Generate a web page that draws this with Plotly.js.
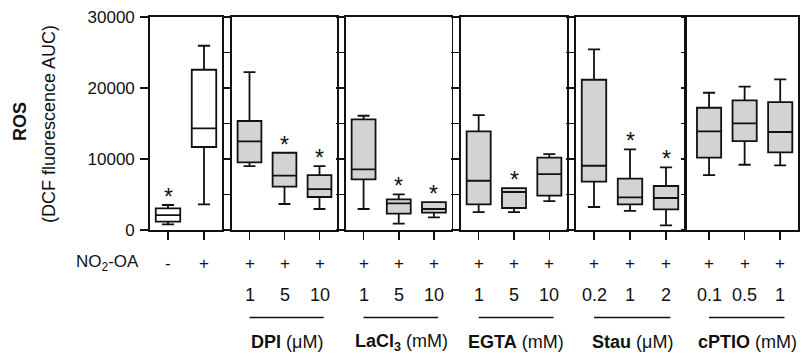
<!DOCTYPE html>
<html>
<head>
<meta charset="utf-8">
<script src="https://cdn.plot.ly/plotly-3.0.1.min.js"></script>
<style>html,body{margin:0;padding:0;background:#fff;}#chart{width:802px;height:358px;}</style>
</head>
<body>
<div id="chart"></div>
<script>
// ---- data ----
const groupNames = ['', '<b>DPI</b> (\u03bcM)', '<b>LaCl<sub>3</sub></b> (mM)', '<b>EGTA</b> (mM)', '<b>Stau</b> (\u03bcM)', '<b>cPTIO</b> (mM)'];
const no2oa = [['-', '+'], ['+', '+', '+'], ['+', '+', '+'], ['+', '+', '+'], ['+', '+', '+'], ['+', '+', '+']];
const doses = [[], ['1', '5', '10'], ['1', '5', '10'], ['1', '5', '10'], ['0.2', '1', '2'], ['0.1', '0.5', '1']];
const lowerWhisker = [[800, 3620], [9010, 3660, 2960], [2960, 890, 1790], [2530, 2530, 4080], [3240, 2680, 660], [7740, 9190, 9110]];
const q1 = [[1170, 11690], [9530, 6100, 4650], [7140, 2300, 2440], [3620, 3100, 4830], [6800, 3620, 2910], [10180, 12530, 10940]];
const medians = [[2100, 14320], [12490, 7650, 5770], [8540, 3760, 2960], [6940, 5350, 7880], [9050, 4600, 4510], [13900, 15020, 13800]];
const q3 = [[3050, 22570], [15350, 10880, 7740], [15580, 4320, 3940], [13900, 5910, 10180], [21160, 7230, 6200], [17220, 18260, 18020]];
const upperWhisker = [[3520, 25950], [22250, 10880, 9010], [16090, 5020, 3940], [16190, 5910, 10700], [25440, 11360, 8830], [19330, 20180, 21220]];
const significant = [[true, false], [false, true, true], [false, true, true], [false, true, false], [false, true, true], [false, false, false]];
const boxFill = ['#ffffff', '#d3d3d3', '#d3d3d3', '#d3d3d3', '#d3d3d3', '#d3d3d3'];

// ---- layout geometry ----
const W = 802, H = 358;
const panelPx = [[150, 222], [232, 337], [346, 451.5], [461, 567], [576, 684], [687, 798]];
const panelRanges = [[-0.5, 1.5], [-0.5, 2.5], [-0.5, 2.5], [-0.5, 2.5], [-0.5, 2.5], [-0.62, 2.5]];
const yTopPx = 17, yBotPx = 230;
const py = v => (H - v) / H;
const FONT = 'Liberation Sans, Arial, sans-serif';
const INK = '#111111';

const traces = [];
const layout = {
  width: W, height: H,
  margin: {l: 0, r: 0, t: 0, b: 0},
  paper_bgcolor: '#fff', plot_bgcolor: '#fff',
  showlegend: false,
  font: {family: FONT, size: 17, color: INK},
  annotations: [], shapes: []
};

for (let p = 0; p < 6; p++) {
  const sfx = p === 0 ? '' : String(p + 1);
  const xs = medians[p].map((_, i) => i);
  traces.push({
    type: 'box', xaxis: 'x' + sfx, yaxis: 'y' + sfx,
    x: xs, q1: q1[p], median: medians[p], q3: q3[p],
    lowerfence: lowerWhisker[p], upperfence: upperWhisker[p],
    width: 0.68, whiskerwidth: 0.5,
    fillcolor: boxFill[p], line: {color: INK, width: 1.8},
    boxpoints: false, hoverinfo: 'skip'
  });
  layout['xaxis' + sfx] = {
    domain: [panelPx[p][0] / W, panelPx[p][1] / W],
    range: panelRanges[p], anchor: 'y' + sfx,
    showgrid: false, zeroline: false,
    showline: true, mirror: true, linecolor: INK, linewidth: 1.8,
    ticks: 'outside', ticklen: 8, tickwidth: 1.6, tickcolor: INK,
    tickvals: xs, showticklabels: false, fixedrange: true
  };
  layout['yaxis' + sfx] = {
    domain: [py(yBotPx), py(yTopPx)],
    range: [0, 30000], anchor: 'x' + sfx,
    showgrid: false, zeroline: false,
    showline: true, mirror: true, linecolor: INK, linewidth: 1.8,
    ticks: 'outside', ticklen: p === 5 ? 4 : 8, tickwidth: 1.6, tickcolor: INK,
    dtick: p === 0 ? 10000 : 5000, tick0: 0, tickformat: 'd',
    showticklabels: p === 0, tickfont: {size: 17, family: FONT, color: INK},
    ticklabelstandoff: 2, fixedrange: true
  };
  xs.forEach(i => {
    layout.annotations.push({
      xref: 'x' + sfx, yref: 'paper', x: i, y: py(263), text: no2oa[p][i],
      showarrow: false, xanchor: 'center', yanchor: 'middle', font: {size: 17, color: INK}
    });
    if (doses[p].length) {
      layout.annotations.push({
        xref: 'x' + sfx, yref: 'paper', x: i, y: py(295), text: doses[p][i],
        showarrow: false, xanchor: 'center', yanchor: 'middle', font: {size: 18, color: INK}
      });
    }
    if (significant[p][i]) {
      layout.annotations.push({
        xref: 'x' + sfx, yref: 'y' + sfx, x: i, y: upperWhisker[p][i], text: '*',
        showarrow: false, xanchor: 'center', yanchor: 'middle', yshift: 8,
        font: {size: 23, color: INK}
      });
    }
  });
  if (groupNames[p]) {
    layout.shapes.push({
      type: 'line', xref: 'x' + sfx, yref: 'paper',
      x0: 0, x1: xs.length - 1 + 0.12, y0: py(317.5), y1: py(317.5),
      line: {color: INK, width: 1.6}
    });
    layout.annotations.push({
      xref: 'x' + sfx, yref: 'paper', x: (xs.length - 1) / 2 + 0.07, y: py(342),
      text: groupNames[p], showarrow: false, xanchor: 'center', yanchor: 'middle',
      font: {size: 18, color: INK}
    });
  }
}

layout.annotations.push({
  xref: 'paper', yref: 'paper', x: 141 / W, y: py(263), text: 'NO<sub>2</sub>-OA',
  showarrow: false, xanchor: 'right', yanchor: 'middle', font: {size: 17, color: INK}
});
layout.annotations.push({
  xref: 'paper', yref: 'paper', x: 20 / W, y: py(122), text: '<b>ROS</b>',
  textangle: -90, showarrow: false, xanchor: 'center', yanchor: 'middle', font: {size: 18, color: INK}
});
layout.annotations.push({
  xref: 'paper', yref: 'paper', x: 49 / W, y: py(124), text: '(DCF fluorescence AUC)',
  textangle: -90, showarrow: false, xanchor: 'center', yanchor: 'middle', font: {size: 18, color: INK}
});

Plotly.newPlot('chart', traces, layout, {staticPlot: true, displayModeBar: false});
</script>
</body>
</html>
